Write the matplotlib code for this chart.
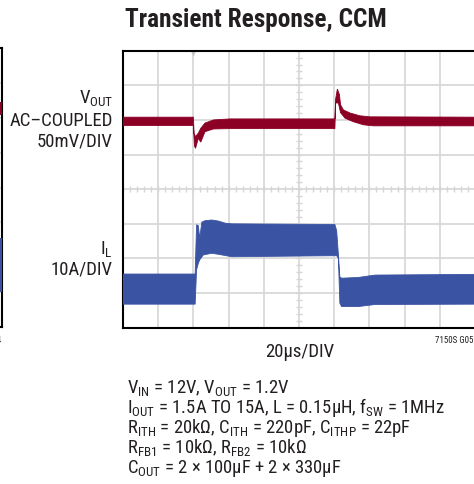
import numpy as np
import matplotlib
matplotlib.use("Agg")
import matplotlib.pyplot as plt

FONT = ['Roboto Condensed', 'DejaVu Sans']
plt.rcParams['font.family'] = FONT
plt.rcParams['mathtext.fontset'] = 'custom'
plt.rcParams['mathtext.rm'] = 'Roboto Condensed'
plt.rcParams['mathtext.it'] = 'Roboto Condensed:italic'
plt.rcParams['mathtext.bf'] = 'Roboto Condensed:bold'

# ---- data (screen divisions: time 0..10 div @20us/div, amplitude -4..4 div) ----
vout_up_t = [0, 2.00, 2.02, 2.06, 2.14, 2.21, 2.33, 2.57, 3.04, 6.02, 6.04, 6.09, 6.15, 6.18, 6.26, 6.45, 6.73, 7.02, 10]
vout_up_v = [2.08, 2.08, 1.60, 1.52, 1.62, 1.76, 1.91, 2.00, 2.03, 2.03, 2.60, 2.89, 2.73, 2.44, 2.29, 2.20, 2.12, 2.09, 2.08]
vout_lo_t = [0, 2.00, 2.03, 2.06, 2.14, 2.21, 2.33, 2.57, 3.04, 6.02, 6.04, 6.12, 6.18, 6.31, 6.54, 6.83, 7.11, 10]
vout_lo_v = [1.84, 1.84, 1.25, 1.18, 1.47, 1.36, 1.66, 1.74, 1.75, 1.75, 2.49, 2.49, 2.21, 2.05, 1.95, 1.86, 1.83, 1.83]

il_up_t = [0, 2.05, 2.09, 2.14, 2.18, 2.24, 2.33, 2.52, 2.71, 2.90, 3.09, 6.02, 6.07, 6.12, 6.16, 6.21, 6.68, 7.16, 10]
il_up_v = [-2.45, -2.45, -1.03, -1.05, -1.42, -0.95, -0.91, -0.89, -0.92, -0.98, -1.00, -1.02, -1.20, -1.90, -2.53, -2.57, -2.55, -2.48, -2.46]
il_lo_t = [0, 2.05, 2.09, 2.14, 2.18, 2.28, 2.52, 2.71, 3.09, 6.07, 6.12, 6.16, 6.21, 6.68, 7.16, 10]
il_lo_v = [-3.32, -3.32, -2.33, -2.14, -2.04, -1.90, -1.85, -1.88, -1.95, -1.92, -2.00, -3.29, -3.39, -3.39, -3.33, -3.32]

# partial neighbour chart at the left edge
nb_red = [2.08, 2.46]
nb_blue = [-3.0, -1.45]

title = "Transient Response, CCM"
vout_labels = [r"V$_\mathrm{OUT}$", "AC–COUPLED", "50mV/DIV"]
il_labels = [r"I$_\mathrm{L}$", "10A/DIV"]
time_label = "20μs/DIV"
fig_id = "7150S G05"
notes = [
    r"V$_\mathrm{IN}$ = 12V, V$_\mathrm{OUT}$ = 1.2V",
    r"I$_\mathrm{OUT}$ = 1.5A TO 15A, L = 0.15μH, f$_\mathrm{SW}$ = 1MHz",
    r"R$_\mathrm{ITH}$ = 20kΩ, C$_\mathrm{ITH}$ = 220pF, C$_\mathrm{ITHP}$ = 22pF",
    r"R$_\mathrm{FB1}$ = 10kΩ, R$_\mathrm{FB2}$ = 10kΩ",
    r"C$_\mathrm{OUT}$ = 2 × 100μF + 2 × 330μF",
]

RED = '#8c0026'
BLUE = '#3a53a3'
GRID = '#d6d6d6'
TXT = '#231f20'

W, H = 474, 484
fig = plt.figure(figsize=(W / 100, H / 100), dpi=100)


def fx(px):
    return px / W


def fy(py):
    return 1 - py / H


def scope_axes(left, top, right, bottom):
    ax = fig.add_axes([fx(left), fy(bottom), fx(right - left), (bottom - top) / H])
    ax.set_xlim(0, 10)
    ax.set_ylim(-4, 4)
    for x in range(1, 10):
        ax.axvline(x, color=GRID, lw=1.2, zorder=1)
    for y in range(-3, 4):
        ax.axhline(y, color=GRID, lw=1.2, zorder=1)
    ax.set_xticks([])
    ax.set_yticks([])
    for s in ax.spines.values():
        s.set_color('black')
        s.set_linewidth(1.5)
    return ax


# neighbour chart (only its right edge visible)
axn = scope_axes(2 - 352, 48.3, 2, 326.7)
axn.fill_between([9.0, 10], nb_red[0], nb_red[1], color=RED, lw=0, zorder=3)
axn.fill_between([9.0, 10], nb_blue[0], nb_blue[1], color=BLUE, lw=0, zorder=3)

ax = scope_axes(123, 50.7, 475, 327.7)
# centre-line minor ticks
minor = np.arange(-4, 4.01, 0.2)
ax.plot(np.full_like(minor, 5.0), minor, ls='none', marker='_', ms=5, mew=1.0, color=GRID, zorder=1)
minor_x = np.arange(0, 10.01, 0.2)
ax.plot(minor_x, np.zeros_like(minor_x), ls='none', marker='|', ms=5, mew=1.0, color=GRID, zorder=1)
# trigger marker
ax.plot([2.0], [3.93], marker='v', ms=5, color='#c4c4c4', mec='none', clip_on=False, zorder=2)

# traces as envelopes
ax.fill(list(vout_up_t) + list(vout_lo_t[::-1]), list(vout_up_v) + list(vout_lo_v[::-1]),
        color=RED, lw=0.6, ec=RED, zorder=3)
ax.fill(list(il_up_t) + list(il_lo_t[::-1]), list(il_up_v) + list(il_lo_v[::-1]),
        color=BLUE, lw=0.6, ec=BLUE, zorder=3)

# texts
fig.text(fx(255.5), fy(26.7), title, ha='center', va='baseline', fontsize=18.3,
         fontweight='bold', color=TXT)
for lab, base in zip(vout_labels, [103.3, 125.7, 146.7]):
    fig.text(fx(113), fy(base), lab, ha='right', va='baseline', fontsize=13.5, color=TXT)
for lab, base in zip(il_labels, [254.0, 275.0]):
    fig.text(fx(113), fy(base), lab, ha='right', va='baseline', fontsize=13.5, color=TXT)
fig.text(fx(300), fy(356.7), time_label, ha='center', va='baseline', fontsize=13.5, color=TXT)
fig.text(fx(473), fy(342.7), fig_id, ha='right', va='baseline', fontsize=6.5, color=TXT)
fig.text(fx(2), fy(342.7), "G04", ha='right', va='baseline', fontsize=6.5, color=TXT)
for i, line in enumerate(notes):
    fig.text(fx(127), fy(393.3 + 20 * i), line, ha='left', va='baseline', fontsize=13.4, color=TXT)

fig.savefig("out.png", dpi=100)
